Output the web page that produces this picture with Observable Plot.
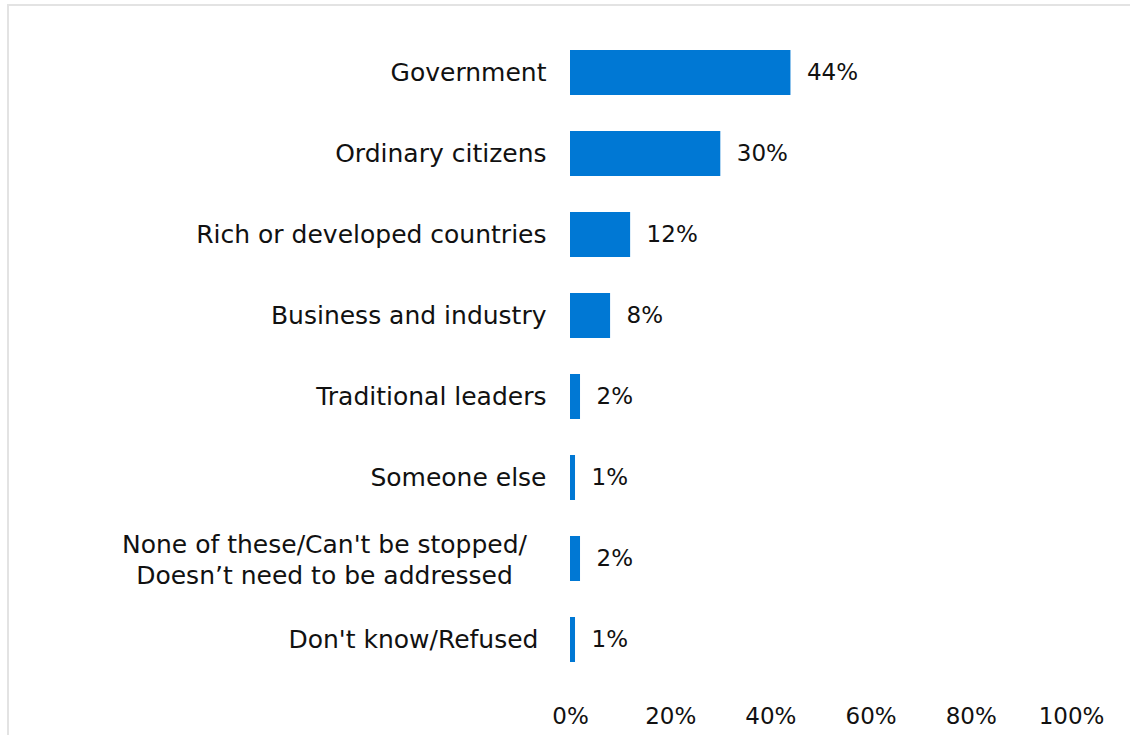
<!DOCTYPE html>
<html>
<head>
<meta charset="utf-8">
<script src="https://cdn.jsdelivr.net/npm/d3@7"></script>
<script src="https://cdn.jsdelivr.net/npm/@observablehq/plot@0.6"></script>
<style>
  html, body { margin: 0; padding: 0; background: #fff; }
  #frame { position: absolute; left: 7px; top: 4px; width: 1123px; height: 731px;
           border-left: 2px solid #e3e3e3; border-top: 2px solid #e3e3e3; box-sizing: border-box; }
  #chart { position: absolute; left: 0; top: 0; }
</style>
</head>
<body>
<div id="frame"></div>
<div id="chart"></div>
<script>
const categories = [
  "Government",
  "Ordinary citizens",
  "Rich or developed countries",
  "Business and industry",
  "Traditional leaders",
  "Someone else",
  "None of these/Can't be stopped/\nDoesn’t need to be addressed",
  "Don't know/Refused"
];
const values = [44, 30, 12, 8, 2, 1, 2, 1];
const xTicks = [0, 20, 40, 60, 80, 100];

const data = categories.map((c, i) => ({category: c, value: values[i]}));
const last = categories[categories.length - 1];
const single = data.filter(d => !d.category.includes("\n") && d.category !== last);
const multi = data.filter(d => d.category.includes("\n"));
const lastRow = data.filter(d => d.category === last);

const font = "DejaVu Sans, Verdana, sans-serif";
const labelSize = 25;

const chart = Plot.plot({
  width: 1130,
  height: 735,
  marginLeft: 570,
  marginRight: 59,
  marginTop: 12,
  marginBottom: 36,
  style: {fontFamily: font, fontSize: "23px", color: "#111", background: "transparent"},
  x: {domain: [0, 100], ticks: xTicks, tickFormat: d => d + "%", tickSize: 0, tickPadding: 8, label: null},
  y: {domain: categories, padding: 0.45, label: null, axis: null},
  marks: [
    Plot.barX(data, {x: "value", y: "category", fill: "#0078d4"}),
    Plot.text(data, {x: "value", y: "category", text: d => d.value + "%", textAnchor: "start", dx: 16, fontSize: 23, fill: "#111"}),
    Plot.text(single, {x: 0, y: "category", text: "category", textAnchor: "end", dx: -24, fontSize: labelSize, fill: "#111"}),
    Plot.text(lastRow, {x: 0, y: "category", text: "category", textAnchor: "end", dx: -32, fontSize: labelSize, fill: "#111"}),
    Plot.text(multi, {x: 0, y: "category", text: "category", textAnchor: "middle", dx: -246, fontSize: labelSize, fill: "#111", lineHeight: 1.24})
  ]
});
document.getElementById("chart").appendChild(chart);
</script>
</body>
</html>
